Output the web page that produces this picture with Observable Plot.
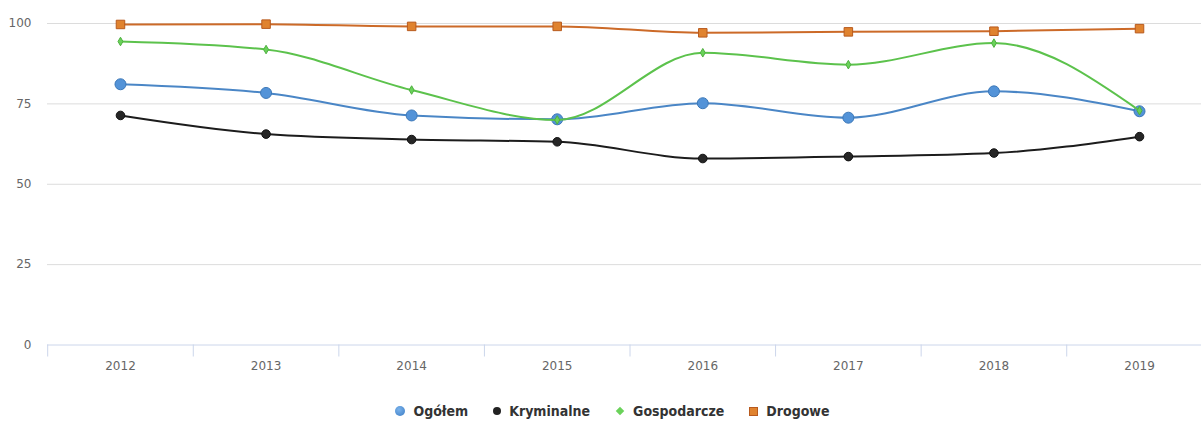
<!DOCTYPE html>
<html><head><meta charset="utf-8">
<script src="https://cdn.jsdelivr.net/npm/d3@7"></script>
<script src="https://cdn.jsdelivr.net/npm/@observablehq/plot@0.6"></script>
<style>
body{margin:0;background:#fff;font-family:"DejaVu Sans Condensed","DejaVu Sans",sans-serif;}
#legend{display:flex;justify-content:center;align-items:center;gap:25px;height:20px;margin-top:6px;padding-left:24px;
  font-weight:bold;font-size:14px;color:#333;}
.item{display:flex;align-items:center;gap:8px;}
.m{display:inline-block;}
</style></head><body><div id="chart"></div><div id="legend"></div>
<script>
const years = [2012, 2013, 2014, 2015, 2016, 2017, 2018, 2019];
const ogolem = [81.1, 78.4, 71.4, 70.2, 75.2, 70.7, 78.9, 72.7];
const kryminalne = [71.4, 65.6, 63.9, 63.2, 58.0, 58.6, 59.7, 64.8];
const gospodarcze = [94.4, 91.9, 79.3, 70.0, 90.9, 87.2, 93.9, 72.9];
const drogowe = [99.7, 99.8, 99.1, 99.1, 97.1, 97.4, 97.6, 98.4];
const yTicks = [0, 25, 50, 75, 100];
const seriesNames = ["Ogółem", "Kryminalne", "Gospodarcze", "Drogowe"];

const styles = {
  "Ogółem": {line: "#4a86c6", fill: "#5393d8", stroke: "#3c78b8", symbol: "circle", r: 5.5},
  "Kryminalne": {line: "#1c1c1c", fill: "#262626", stroke: "#111", symbol: "circle", r: 4.3},
  "Gospodarcze": {line: "#5cc24c", fill: "#6ad25a", stroke: "#4fb040", symbol: "diamond", r: 2.6},
  "Drogowe": {line: "#cc6a28", fill: "#e0832f", stroke: "#b85a1e", symbol: "square", r: 4.8}
};
const values = [ogolem, kryminalne, gospodarcze, drogowe];
const boundaries = years.map(y => y - 0.5);
const axisFont = '"DejaVu Sans",sans-serif';

const marks = [
  Plot.ruleY(yTicks.filter(v => v > 0), {stroke: "#dcdcdc", strokeWidth: 1}),
  Plot.ruleY([0], {stroke: "#ccd6eb"}),
  Plot.axisY({ticks: yTicks, tickSize: 0, tickPadding: 16, fill: "#666", fontSize: 12, fontFamily: axisFont, label: null}),
  Plot.axisX(years, {tickSize: 0, tickPadding: 16, tickFormat: d => String(d), fill: "#666", fontSize: 12, fontFamily: axisFont, label: null}),
  Plot.axisX(boundaries, {tickSize: 12, tickFormat: () => "", stroke: "#ccd6eb", label: null})
];
seriesNames.forEach((name, k) => {
  const s = styles[name];
  const rows = years.map((y, i) => ({year: y, value: values[k][i]}));
  marks.push(Plot.line(rows, {x: "year", y: "value", curve: "monotone-x", stroke: s.line, strokeWidth: 2}));
  marks.push(Plot.dot(rows, {x: "year", y: "value", symbol: s.symbol, r: s.r, fill: s.fill, stroke: s.stroke, strokeWidth: 1}));
});

const chart = Plot.plot({
  width: 1201, height: 395,
  marginLeft: 47, marginRight: 0, marginTop: 23, marginBottom: 50.5,
  style: {fontFamily: axisFont, fontSize: "12px", color: "#666", background: "#fff"},
  x: {domain: [2011.5, 2019.5], range: [47.2, 1211.8], label: null},
  y: {domain: [0, 100], range: [344.5, 23], label: null},
  marks
});
document.getElementById("chart").append(chart);

const legend = document.getElementById("legend");
const markerCss = {
  "Ogółem": "width:10px;height:10px;border-radius:50%;background:radial-gradient(circle at 40% 35%,#7ab3ec,#3c7cc4);",
  "Kryminalne": "width:8px;height:8px;border-radius:50%;background:#222;",
  "Gospodarcze": "width:6px;height:6px;background:#6ad25a;transform:rotate(45deg);margin:0 2px;",
  "Drogowe": "width:9px;height:9px;background:#e0832f;border:1px solid #b85a1e;box-sizing:border-box;"
};
seriesNames.forEach(name => {
  const it = document.createElement("div");
  it.className = "item";
  it.innerHTML = `<span class="m" style="${markerCss[name]}"></span><span>${name}</span>`;
  legend.append(it);
});
</script>
</body></html>
